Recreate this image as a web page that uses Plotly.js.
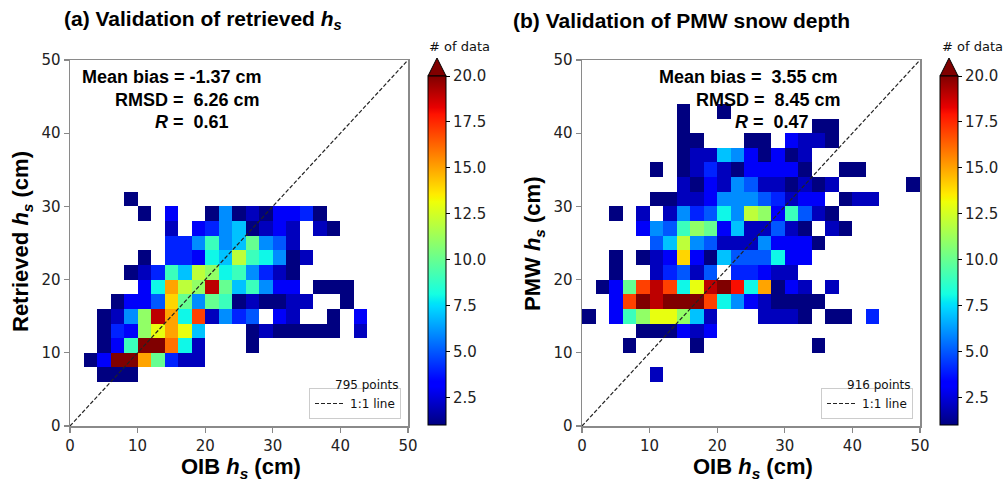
<!DOCTYPE html>
<html>
<head>
<meta charset="utf-8">
<script src="https://cdn.plot.ly/plotly-3.0.1.min.js"></script>
<style>html,body{margin:0;padding:0;background:#fff;}#chart{width:1004px;height:486px;}</style>
</head>
<body>
<div id="chart"></div>
<script>
// ---- data ----
const binCenters = [1,3,5,7,9,11,13,15,17,19,21,23,25,27,29,31,33,35,37,39,41,43,45,47,49];
const axisTicks = [0,10,20,30,40,50];
const cbTicks = [2.5,5.0,7.5,10.0,12.5,15.0,17.5,20.0];
const oneToOneX = [0,50];
const oneToOneY = [0,50];

// counts per 2 cm bin, rows = y bins (0-2, 2-4, ...), columns = x bins
const countsA = [
 [0,0,0,0,0,0,0,0,0,0,0,0,0,0,0,0,0,0,0,0,0,0,0,0,0],
 [0,0,0,0,0,0,0,0,0,0,0,0,0,0,0,0,0,0,0,0,0,0,0,0,0],
 [0,0,0,0,0,0,0,0,0,0,0,0,0,0,0,0,0,0,0,0,0,0,0,0,0],
 [0,0,1,1,1,0,0,0,0,0,0,0,0,0,0,0,0,0,0,0,0,0,0,0,0],
 [0,1,3,23,23,15,10,4,2,2,0,0,0,0,0,0,0,0,0,0,0,0,0,0,0],
 [0,0,1,3,9,23,23,16,8,2,0,0,0,1,0,0,0,0,0,0,0,0,0,0,0],
 [0,0,1,4,3,11,13,15,13,7,0,0,0,1,2,1,1,1,1,1,0,2,0,0,0],
 [0,0,1,2,6,11,19,15,8,17,2,6,4,5,0,3,2,0,0,1,0,3,0,0,0],
 [0,0,0,1,3,3,5,14,10,6,10,9,1,2,1,1,2,2,0,0,1,0,0,0,0],
 [0,0,0,0,0,3,8,15,12,11,19,10,7,9,6,3,3,0,1,1,1,0,0,0,0],
 [0,0,0,0,1,2,4,9,7,12,11,8,9,6,4,2,1,0,0,0,0,0,0,0,0],
 [0,0,0,0,0,1,0,4,4,3,8,7,12,9,8,6,1,2,0,0,0,0,0,0,0],
 [0,0,0,0,0,0,0,4,4,6,9,6,7,10,6,5,2,0,0,0,0,0,0,0,0],
 [0,0,0,0,0,0,0,2,0,3,4,6,7,1,2,3,2,0,2,1,0,0,0,0,0],
 [0,0,0,0,0,1,0,3,0,0,1,6,1,2,1,3,3,4,1,0,0,0,0,0,0],
 [0,0,0,0,1,0,0,0,0,0,0,0,0,0,0,0,0,0,0,0,0,0,0,0,0],
 [0,0,0,0,0,0,0,0,0,0,0,0,0,0,0,0,0,0,0,0,0,0,0,0,0],
 [0,0,0,0,0,0,0,0,0,0,0,0,0,0,0,0,0,0,0,0,0,0,0,0,0],
 [0,0,0,0,0,0,0,0,0,0,0,0,0,0,0,0,0,0,0,0,0,0,0,0,0],
 [0,0,0,0,0,0,0,0,0,0,0,0,0,0,0,0,0,0,0,0,0,0,0,0,0],
 [0,0,0,0,0,0,0,0,0,0,0,0,0,0,0,0,0,0,0,0,0,0,0,0,0],
 [0,0,0,0,0,0,0,0,0,0,0,0,0,0,0,0,0,0,0,0,0,0,0,0,0],
 [0,0,0,0,0,0,0,0,0,0,0,0,0,0,0,0,0,0,0,0,0,0,0,0,0],
 [0,0,0,0,0,0,0,0,0,0,0,0,0,0,0,0,0,0,0,0,0,0,0,0,0],
 [0,0,0,0,0,0,0,0,0,0,0,0,0,0,0,0,0,0,0,0,0,0,0,0,0]
];
const countsB = [
 [0,0,0,0,0,0,0,0,0,0,0,0,0,0,0,0,0,0,0,0,0,0,0,0,0],
 [0,0,0,0,0,0,0,0,0,0,0,0,0,0,0,0,0,0,0,0,0,0,0,0,0],
 [0,0,0,0,0,0,0,0,0,0,0,0,0,0,0,0,0,0,0,0,0,0,0,0,0],
 [0,0,0,0,0,2,0,0,0,0,0,0,0,0,0,0,0,0,0,0,0,0,0,0,0],
 [0,0,0,0,0,0,0,0,0,0,0,0,0,0,0,0,0,0,0,0,0,0,0,0,0],
 [0,0,0,1,0,0,0,0,1,0,0,0,0,0,0,0,0,1,0,0,0,0,0,0,0],
 [0,0,0,0,1,1,1,3,2,3,0,0,0,0,0,0,0,0,0,0,0,0,0,0,0],
 [1,0,3,9,11,13,13,11,7,2,0,0,0,2,2,2,1,0,1,1,0,4,0,0,0],
 [0,0,3,17,23,19,23,23,23,17,8,6,3,2,1,1,1,1,0,0,0,0,0,0,0],
 [0,1,3,10,17,19,17,8,13,19,23,18,8,15,1,3,2,0,2,0,0,0,0,0,0],
 [0,0,1,0,0,2,4,5,2,5,0,4,4,3,2,2,0,0,0,0,0,0,0,0,0],
 [0,0,1,0,1,2,3,14,3,1,7,5,5,5,8,3,3,0,0,0,0,0,0,0,0],
 [0,0,0,0,0,5,7,12,6,5,2,2,2,6,3,3,3,1,0,0,0,0,0,0,0],
 [0,0,0,0,3,6,5,9,11,10,3,7,2,2,5,2,1,0,2,1,0,0,0,0,0],
 [0,0,1,0,2,0,2,6,4,5,8,6,12,11,3,9,5,2,1,0,0,0,0,0,0],
 [0,0,0,0,0,1,1,2,2,3,6,6,6,5,4,2,3,3,0,1,2,2,0,0,0],
 [0,0,0,0,0,0,0,2,1,3,2,6,5,2,2,1,2,1,2,0,0,0,0,0,1],
 [0,0,0,0,0,1,0,1,2,4,2,1,3,3,3,3,1,0,0,1,1,0,0,0,0],
 [0,0,0,0,0,0,0,1,2,2,7,6,3,1,3,1,2,0,0,0,0,0,0,0,0],
 [0,0,0,0,0,0,0,1,1,0,0,0,1,1,0,3,2,2,1,0,0,0,0,0,0],
 [0,0,0,0,0,0,0,1,0,0,0,0,0,0,0,0,0,1,1,0,0,0,0,0,0],
 [0,0,0,0,0,0,0,1,0,0,1,0,0,0,0,0,0,0,0,0,0,0,0,0,0],
 [0,0,0,0,0,0,0,0,0,0,0,0,0,0,0,0,0,0,0,0,0,0,0,0,0],
 [0,0,0,0,0,0,0,0,0,0,0,0,0,0,0,0,0,0,0,0,0,0,0,0,0],
 [0,0,0,0,0,0,0,0,0,0,0,0,0,0,0,0,0,0,0,0,0,0,0,0,0]
];
const NB = '\u00a0';
const statsA = ['Mean bias = -1.37 cm', 'RMSD =' + NB + NB + '6.26 cm', '<i>R</i> =' + NB + NB + '0.61'];
const statsB = ['Mean bias =' + NB + NB + '3.55 cm', 'RMSD =' + NB + NB + '8.45 cm', '<i>R</i> =' + NB + NB + '0.47'];
const pointsA = '795 points';
const pointsB = '916 points';

// ---- styling ----
const W = 1004, H = 486;
const px = v => v / W;
const py = v => 1 - v / H;
const jet = [[0,'rgb(0,0,128)'],[0.11,'rgb(0,0,255)'],[0.125,'rgb(0,0,255)'],[0.34,'rgb(0,219,255)'],
 [0.35,'rgb(0,229,247)'],[0.375,'rgb(21,255,226)'],[0.64,'rgb(239,255,8)'],[0.65,'rgb(247,245,0)'],
 [0.66,'rgb(255,236,0)'],[0.89,'rgb(255,19,0)'],[0.91,'rgb(232,0,0)'],[1,'rgb(128,0,0)']];
const toZ = m => m.map(r => r.map(v => v > 0 ? v : null));
const tickFont = {family: 'DejaVu Sans, sans-serif', size: 15, color: '#222'};
const boldFont = {family: 'Liberation Sans, Arial, sans-serif', size: 21, color: '#000'};

function cbar(xLeft) {
  return {
    x: px(xLeft), xanchor: 'left', xpad: 0, ypad: 0,
    y: py(425), yanchor: 'bottom', len: 349, lenmode: 'pixels',
    thickness: 18, thicknessmode: 'pixels',
    outlinewidth: 1, outlinecolor: '#000',
    tickvals: cbTicks, ticktext: cbTicks.map(v => v.toFixed(1)),
    ticks: 'outside', ticklen: 4, tickcolor: '#000',
    tickfont: {family: 'DejaVu Sans, sans-serif', size: 15, color: '#222'}
  };
}

const lineStyle = {color: '#222', width: 1.2, dash: '4px,2px'};
const traces = [
  {type: 'heatmap', x: binCenters, y: binCenters, z: toZ(countsA), xaxis: 'x', yaxis: 'y',
   colorscale: jet, zmin: 1, zmax: 20, colorbar: cbar(428), hoverongaps: false},
  {type: 'heatmap', x: binCenters, y: binCenters, z: toZ(countsB), xaxis: 'x2', yaxis: 'y2',
   colorscale: jet, zmin: 1, zmax: 20, colorbar: cbar(940), hoverongaps: false},
  {type: 'scatter', mode: 'lines', x: oneToOneX, y: oneToOneY, xaxis: 'x', yaxis: 'y',
   name: '1:1 line', line: lineStyle, legend: 'legend'},
  {type: 'scatter', mode: 'lines', x: oneToOneX, y: oneToOneY, xaxis: 'x2', yaxis: 'y2',
   name: '1:1 line', line: lineStyle, legend: 'legend2'}
];

function ax(domain, anchor) {
  return {domain: domain, anchor: anchor, range: [0, 50], tickvals: axisTicks,
    ticks: 'outside', ticklen: 5, tickcolor: '#888', tickwidth: 1.2,
    showline: true, mirror: true, linecolor: '#8a8a8a', linewidth: 1.5,
    showgrid: false, zeroline: false, tickfont: tickFont, fixedrange: true};
}

const ann = [];
function addText(text, x, y, opts) {
  ann.push(Object.assign({text: text, x: px(x), y: py(y), xref: 'paper', yref: 'paper',
    xanchor: 'center', yanchor: 'middle', showarrow: false, font: boldFont}, opts || {}));
}
const labelFont = Object.assign({}, boldFont, {size: 22});
addText('<b>(a) Validation of retrieved <i>h<sub>s</sub></i></b>', 62, 20, {xanchor: 'left'});
addText('<b>(b) Validation of PMW snow depth</b>', 511, 20, {xanchor: 'left'});
addText('<b>OIB <i>h<sub>s</sub></i> (cm)</b>', 241, 468, {font: labelFont});
addText('<b>OIB <i>h<sub>s</sub></i> (cm)</b>', 753, 468, {font: labelFont});
addText('<b>Retrieved <i>h<sub>s</sub></i> (cm)</b>', 22, 242, {textangle: -90, font: labelFont});
addText('<b>PMW <i>h<sub>s</sub></i> (cm)</b>', 534, 244, {textangle: -90, font: labelFont});
const statFont = Object.assign({}, boldFont, {size: 18});
addText('<b>' + statsA[0] + '</b>', 80, 77, {xanchor: 'left', font: statFont});
addText('<b>' + statsA[1] + '</b>', 113, 100, {xanchor: 'left', font: statFont});
addText('<b>' + statsA[2] + '</b>', 153, 122, {xanchor: 'left', font: statFont});
addText('<b>' + statsB[0] + '</b>', 657, 77, {xanchor: 'left', font: statFont});
addText('<b>' + statsB[1] + '</b>', 694, 100, {xanchor: 'left', font: statFont});
addText('<b>' + statsB[2] + '</b>', 733, 122, {xanchor: 'left', font: statFont});
const smallFont = {family: 'DejaVu Sans, sans-serif', size: 12, color: '#111'};
addText(pointsA, 401, 385, {xanchor: 'right', font: smallFont});
addText(pointsB, 913, 385, {xanchor: 'right', font: smallFont});
const cbTitleFont = {family: 'DejaVu Sans, sans-serif', size: 13, color: '#111'};
addText('# of data', 459, 46, {font: cbTitleFont});
addText('# of data', 972, 46, {font: cbTitleFont});

function tri(xl, xr) {
  const xm = (xl + xr) / 2;
  return {type: 'path', xref: 'paper', yref: 'paper',
    path: 'M ' + px(xl) + ',' + py(76) + ' L ' + px(xr) + ',' + py(76) + ' L ' + px(xm) + ',' + py(58) + ' Z',
    fillcolor: 'rgb(128,0,0)', line: {color: '#000', width: 1}};
}

const legendStyle = (xr) => ({x: px(xr), xanchor: 'right', y: py(419), yanchor: 'bottom',
  bgcolor: 'rgba(255,255,255,0.9)', bordercolor: '#cccccc', borderwidth: 1,
  font: {family: 'DejaVu Sans, sans-serif', size: 12, color: '#111'},
  itemwidth: 30, tracegroupgap: 0});

const layout = {
  width: W, height: H, margin: {l: 0, r: 0, t: 0, b: 0},
  paper_bgcolor: '#fff', plot_bgcolor: '#fff',
  xaxis: ax([px(70), px(408)], 'y'),
  yaxis: ax([py(426), py(60)], 'x'),
  xaxis2: ax([px(582), px(920)], 'y2'),
  yaxis2: ax([py(426), py(60)], 'x2'),
  showlegend: true,
  legend: legendStyle(401),
  legend2: legendStyle(913),
  annotations: ann,
  shapes: [tri(428, 446), tri(940, 958)]
};

Plotly.newPlot('chart', traces, layout, {displayModeBar: false, staticPlot: true});
</script>
</body>
</html>
